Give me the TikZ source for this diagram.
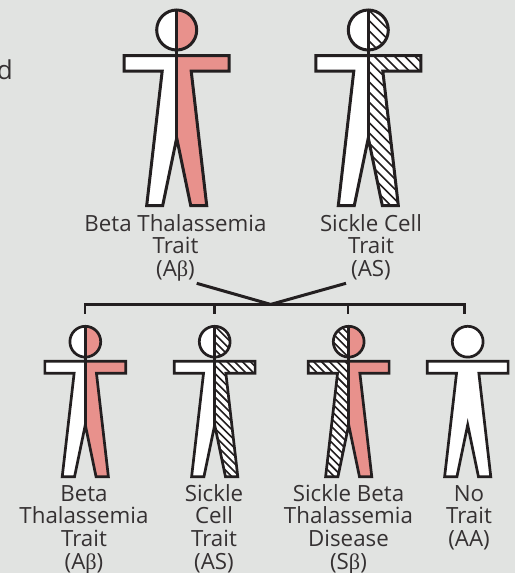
\documentclass[tikz,border=0pt]{standalone}
\usepackage{fontspec}
\setmainfont{Open Sans}
\newfontfamily\grk{Liberation Serif}
\definecolor{bgc}{HTML}{E1E3E1}
\definecolor{ink}{HTML}{231F20}
\definecolor{pinkc}{HTML}{E8918C}
\newcommand\firstline{\rule{0pt}{18pt}}
\tikzset{
  lbl/.style={align=center,inner sep=0pt,text=ink!92!white,font=\fontsize{22.3}{22.6}\selectfont,anchor=north},
  conn/.style={draw=ink,line width=2.8pt,line cap=butt,line join=miter},
  outline/.style={draw=ink,line join=miter,miter limit=12},
}
\newcommand\bodyshape{(-52.5,25.5) -- (52.5,25.5) -- (52.5,41) -- (14.5,41) -- (30,175.5) -- (14,175.5) -- (0,108) -- (-14,175.5) -- (-30,175.5) -- (-14.5,41) -- (-52.5,41) -- cycle}
\newcommand\headshape{(0,0) circle (20)}
\newcommand\sideplain{}
\newcommand\sidepink{\fill[pinkc] \bodyshape; \fill[pinkc] \headshape;}
\newcommand\sidehatch{\foreach \k in {-10,...,27}{\draw[ink,line width=1.6pt] (-80,{\k*10.2-80}) -- (80,{\k*10.2+80});}}
\newcommand\halfside[2]{\begin{scope}
  \clip (0,-30) rectangle ({#1*70},190);
  \begin{scope}
    \clip \bodyshape \headshape;
    \fill[white] (-80,-40) rectangle (80,200);
    #2
  \end{scope}
\end{scope}}
% centre x, head centre y, scale, line width, left side, right side
\newcommand\person[6]{\begin{scope}[shift={(#1,#2)},scale=#3,line width=#4pt]
  \halfside{-1}{#5}
  \halfside{1}{#6}
  \draw[outline] \headshape;
  \draw[outline] \bodyshape;
  \draw[ink] (0,-20) -- (0,108);
\end{scope}}
\newcommand\blank[4]{\begin{scope}[shift={(#1,#2)},scale=#3,line width=#4pt]
  \fill[white] \headshape; \fill[white] \bodyshape;
  \draw[outline] \headshape;
  \draw[outline] \bodyshape;
\end{scope}}
\begin{document}
\begin{tikzpicture}[x=1pt,y=-1pt]
\useasboundingbox (0,0) rectangle (515,573);
\fill[bgc] (0,0) rectangle (515,573);
\person{176.7}{30}{1}{3}{\sideplain}{\sidepink}
\person{368.3}{30}{1}{3}{\sideplain}{\sidehatch}
\person{85.3}{341.7}{0.77}{2.7}{\sideplain}{\sidepink}
\person{214.7}{341.7}{0.77}{2.7}{\sideplain}{\sidehatch}
\person{348.7}{341.7}{0.77}{2.7}{\sidehatch}{\sidepink}
\blank{467.7}{341.7}{0.77}{2.7}
\node[inner sep=0pt,anchor=base east,text=ink!92!white,font=\fontsize{26}{26}\selectfont] (frag) at (13,79) {d};
\node[lbl] (p1) at (175.5,213) {\firstline Beta Thalassemia\\Trait\\(A{\grk β})};
\node[lbl] (p2) at (371,213) {\firstline Sickle Cell\\Trait\\(AS)};
\node[lbl] (c1) at (84,483) {\firstline Beta\\Thalassemia\\Trait\\(A{\grk β})};
\node[lbl] (c2) at (214,483) {\firstline Sickle\\Cell\\Trait\\(AS)};
\node[lbl] (c3) at (348.5,483) {\firstline Sickle Beta\\Thalassemia\\Disease\\(S{\grk β})};
\node[lbl] (c4) at (469,483) {\firstline No\\Trait\\(AA)};
\coordinate (m) at (270.7,304.4);
\coordinate (a) at (196.7,283.3);
\coordinate (b) at (346,283.3);
\coordinate (d1) at (85,313.5);
\coordinate (d2) at (214.7,313.5);
\coordinate (d3) at (348,313.5);
\coordinate (d4) at (464.7,313.5);
\draw[conn] (d1) |- (m) -| (d4);
\draw[conn] (d2) -- (d2 |- m);
\draw[conn] (d3) -- (d3 |- m);
\draw[conn,line width=3pt] (a) -- (m) -- (b);
\end{tikzpicture}
\end{document}
